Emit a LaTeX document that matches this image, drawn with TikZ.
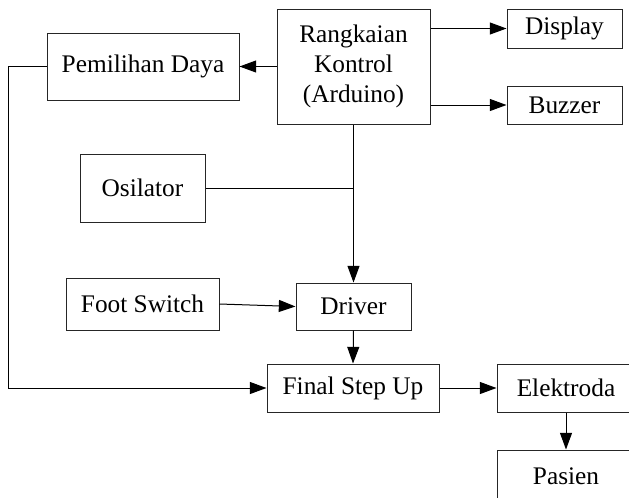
\documentclass[tikz,border=0pt]{standalone}
\usepackage{fontspec}
\setmainfont{Liberation Serif}
\usetikzlibrary{arrows.meta}
\begin{document}
\begin{tikzpicture}[x=0.75pt,y=-0.75pt,
  blk/.style={draw=black!85,line width=0.75pt,rectangle,inner sep=0pt,align=center,
    font=\fontsize{19}{22.5}\selectfont},
  conn/.style={line width=0.75pt,draw=black},
  arr/.style={conn,-{Triangle[length=12.5pt,width=9pt]}}]
\useasboundingbox (0,0) rectangle (629,497);
\clip (0,0) rectangle (629,497);
\node[blk,minimum width=153*0.75pt,minimum height=115*0.75pt] (ctrl) at (353.5,66.5) {Rangkaian\\Kontrol\\(Arduino)};
\node[blk,minimum width=115*0.75pt,minimum height=39*0.75pt] (disp) at (564.5,28.5) {Display};
\node[blk,minimum width=115*0.75pt,minimum height=38*0.75pt] (buzz) at (564.5,105) {Buzzer};
\node[blk,minimum width=192*0.75pt,minimum height=67*0.75pt] (pem) at (143,66.5) {Pemilihan Daya};
\node[blk,minimum width=125*0.75pt,minimum height=68*0.75pt] (osc) at (142.5,188) {Osilator};
\node[blk,minimum width=153*0.75pt,minimum height=52*0.75pt] (foot) at (142.5,304) {Foot Switch};
\node[blk,minimum width=115*0.75pt,minimum height=47*0.75pt] (drv) at (353.5,306.5) {Driver};
\node[blk,minimum width=172*0.75pt,minimum height=48*0.75pt] (fsu) at (353,388) {Final Step Up};
\node[blk,minimum width=138*0.75pt,minimum height=48*0.75pt] (elek) at (566,388) {Elektroda};
\node[blk,minimum width=138*0.75pt,minimum height=52*0.75pt] (pas) at (566,476) {Pasien};
\coordinate (jn) at (353.5,188);
\coordinate (lt) at (8,66.5);
\coordinate (lb) at (8,388);
\draw[arr] (ctrl.west) -- (pem.east);
\draw[arr] (ctrl.east |- disp.west) -- (disp.west);
\draw[arr] (ctrl.east |- buzz.west) -- (buzz.west);
\draw[arr] (ctrl.south) -- (drv.north);
\draw[conn] (osc.east) -- (jn);
\draw[arr] (foot.east) -- (drv.west);
\draw[arr] (drv.south) -- (fsu.north);
\draw[arr] (pem.west) -- (lt) -- (lb) -- (fsu.west);
\draw[arr] (fsu.east) -- (elek.west);
\draw[arr] (elek.south) -- (pas.north);
\end{tikzpicture}
\end{document}
